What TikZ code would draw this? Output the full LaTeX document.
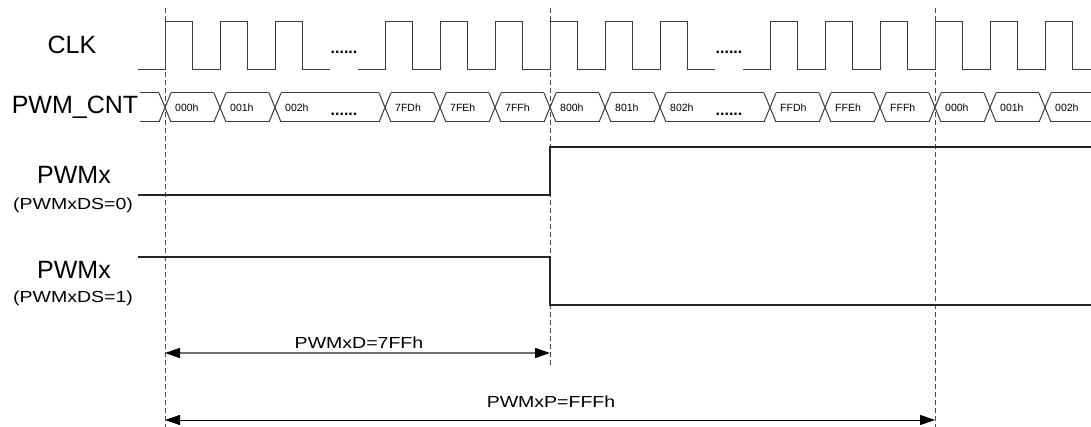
\documentclass[tikz,border=0pt]{standalone}
\usepackage{fontspec}
\setmainfont{Liberation Sans}
\usetikzlibrary{arrows.meta}
\definecolor{Wave}{HTML}{3C3C3C}
\definecolor{Guide}{HTML}{4A4A4A}
\definecolor{DimGrey}{HTML}{707070}
\newcommand{\wide}[1]{\scalebox{1.22}[1]{#1}}

\begin{document}
\begin{tikzpicture}[x=1pt,y=-1pt,
    wave/.style={Wave,line width=1pt},
    outp/.style={black!85,line width=1.3pt},
    guide/.style={Guide,line width=0.9pt,dash pattern=on 5pt off 3pt},
    dimline/.style={{Triangle[length=15pt,width=10pt,color=black]}-{Triangle[length=15pt,width=10pt,color=black]}},
    sig/.style={font=\fontsize{25}{30}\selectfont},
    sub/.style={font=\fontsize{16}{19}\selectfont},
    dimtxt/.style={font=\fontsize{16}{19}\selectfont},
    cnt/.style={font=\fontsize{10.5}{12}\selectfont,anchor=west,inner sep=0pt},
    gap/.style={font=\fontsize{16}{19}\selectfont\bfseries,inner sep=0pt,anchor=base}]
  \useasboundingbox (0,0) rectangle (1091,427);
  \clip (0,0) rectangle (1091,427);

  % signal names
  \node[sig] (clk) at (72,45) {CLK};
  \node[sig] (cnt) at (75,107) {PWM\_CNT};
  \node[sig] (pwma) at (74,175) {PWMx};
  \node[sub] (dsa) at (73,205) {\wide{(PWMxDS=0)}};
  \node[sig] (pwmb) at (74,270) {PWMx};
  \node[sub] (dsb) at (73,298) {\wide{(PWMxDS=1)}};

  % clock
  \draw[wave] (138,70) -- (165,70);
  \foreach \r in {165,220,275,385,440,495,550,605,660,770,825,880,935,990,1045}
    \draw[wave] (\r,70) -- (\r,22) -- ++(27.5,0) -- ++(0,48) -- ++(27.5,0);
  \draw[wave] (358,70) -- (385,70);
  \draw[wave] (743,70) -- (770,70);
  \node[gap] (clkdotsa) at (344,54) {......};
  \node[gap] (clkdotsb) at (729,54) {......};

  % counter bus
  \draw[wave] (140,93) -- (159,93) (140,122) -- (159,122);
  \foreach \a/\b/\v in {165/220/000h,220/275/001h,275/385/002h,385/440/7FDh,
      440/495/7FEh,495/550/7FFh,550/605/800h,605/660/801h,660/770/802h,
      770/825/FFDh,825/880/FFEh,880/935/FFFh,935/990/000h,990/1045/001h,1045/1100/002h}{
    \draw[wave] (\a-6,93) -- (\a+6,122) (\a-6,122) -- (\a+6,93);
    \draw[wave] (\a+6,93) -- (\b-6,93) (\a+6,122) -- (\b-6,122);
    \node[cnt] (cnt\a) at (\a+10,107.5) {\v};
  }
  \node[gap] (cntdotsa) at (344,116) {......};
  \node[gap] (cntdotsb) at (729,116) {......};

  % period marks
  \foreach \x/\e [count=\i] in {165/427,550/367,935/427}
    \draw[guide] (\x,8) coordinate (top\i) -- (\x,\e) coordinate (bot\i);

  % outputs
  \draw[outp] (138,195) -- (550,195) -- (550,147) -- (1091,147);
  \draw[outp] (138,257) -- (550,257) -- (550,305) -- (1091,305);

  % duty and period
  \coordinate (dl) at (165,353);
  \coordinate (dr) at (550,353);
  \coordinate (pl) at (165,420);
  \coordinate (pr) at (935,420);
  \draw[dimline,DimGrey,line width=1.5pt] (dl) -- (dr);
  \draw[dimline,black,line width=1pt] (pl) -- (pr);
  \node[dimtxt] (dlab) at (359,343) {\wide{PWMxD=7FFh}};
  \node[dimtxt] (plab) at (551,402) {\wide{PWMxP=FFFh}};
\end{tikzpicture}
\end{document}
